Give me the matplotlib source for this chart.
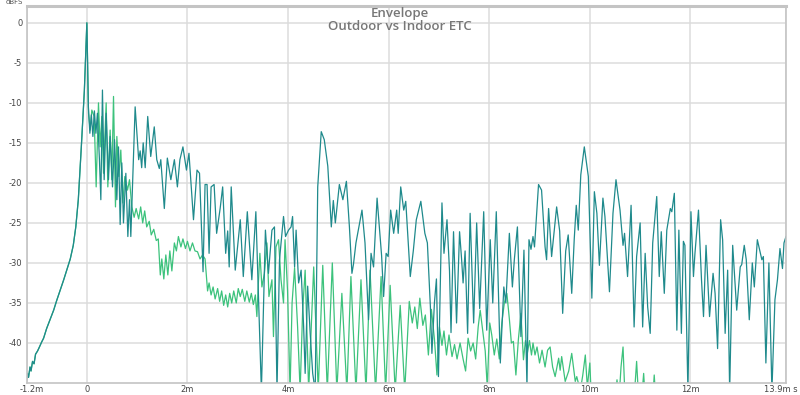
"""
Envelope (ETC) of an outdoor and an indoor measurement, REW style.
"""

import matplotlib
matplotlib.use('Agg')
import matplotlib.pyplot as plt
import matplotlib.transforms as mtransforms

# Data (time in ms, level in dBFS)
# ----------------------------------------------------------------------------

ramp_t = [-1.2, -1.18, -1.16, -1.13, -1.11, -1.08, -1.05, -1.02, -0.98, -0.95,
          -0.9, -0.86, -0.8, -0.74, -0.66, -0.6, -0.53, -0.46, -0.4, -0.33,
          -0.27, -0.22, -0.17, -0.11, -0.05, 0.0]
ramp_db = [-44.6, -43.8, -44.3, -43.0, -43.5, -42.3, -42.6, -41.4, -41.0, -40.6,
           -39.9, -39.4, -38.2, -37.2, -35.9, -34.7, -33.4, -32.1, -30.9, -29.5,
           -27.8, -25.5, -22.1, -15.5, -8.5, 0.0]

indoor_t = [
    0.03, 0.06, 0.09, 0.12, 0.15, 0.18, 0.21, 0.25, 0.278, 0.31,
    0.344, 0.384, 0.43, 0.463, 0.51, 0.55, 0.596, 0.629, 0.662, 0.695,
    0.728, 0.775, 0.815, 0.848, 0.874, 0.96, 1.03, 1.06, 1.09, 1.12,
    1.16, 1.21, 1.27, 1.34, 1.39, 1.44, 1.47, 1.54, 1.60, 1.67,
    1.74, 1.80, 1.85, 1.91, 1.98, 2.03, 2.12, 2.19, 2.24, 2.31,
    2.35, 2.39, 2.43, 2.47, 2.53, 2.58, 2.65, 2.70, 2.76, 2.80,
    2.83, 2.87, 2.95, 3.05, 3.11, 3.19, 3.28, 3.36, 3.47, 3.55,
    3.61, 3.68, 3.73, 3.78, 3.83, 3.91, 3.95, 4.01, 4.06, 4.09,
    4.13, 4.16, 4.21, 4.26, 4.31, 4.34, 4.39, 4.44, 4.49, 4.54,
    4.59, 4.66, 4.72, 4.79, 4.86, 4.90, 4.94, 5.02, 5.09, 5.16,
    5.22, 5.27, 5.30, 5.35, 5.47, 5.53, 5.60, 5.65, 5.70, 5.77,
    5.83, 5.86, 5.90, 5.95, 5.99, 6.04, 6.10, 6.16, 6.19, 6.24,
    6.30, 6.34, 6.43, 6.49, 6.55, 6.64, 6.72, 6.77, 6.83, 6.86,
    6.91, 6.95, 6.99, 7.06, 7.10, 7.16, 7.21, 7.24, 7.29, 7.35,
    7.41, 7.45, 7.48, 7.52, 7.57, 7.62, 7.69, 7.75, 7.81, 7.89,
    7.95, 8.02, 8.07, 8.14, 8.22, 8.29, 8.33, 8.40, 8.46, 8.50,
    8.56, 8.63, 8.69, 8.75, 8.79, 8.83, 8.87, 8.90, 8.98, 9.04,
    9.11, 9.14, 9.18, 9.24, 9.34, 9.40, 9.46, 9.52, 9.57, 9.64,
    9.69, 9.73, 9.77, 9.82, 9.89, 9.97, 10.04, 10.09, 10.14, 10.19,
    10.26, 10.30, 10.39, 10.46, 10.52, 10.60, 10.66, 10.69, 10.75, 10.82,
    10.88, 10.93, 11.00, 11.05, 11.10, 11.15, 11.20, 11.25, 11.33, 11.38,
    11.42, 11.48, 11.53, 11.60, 11.63, 11.68, 11.73, 11.77, 11.82, 11.86,
    11.89, 11.95, 12.01, 12.06, 12.09, 12.16, 12.22, 12.26, 12.31, 12.38,
    12.45, 12.49, 12.54, 12.60, 12.64, 12.69, 12.74, 12.78, 12.84, 12.92,
    12.99, 13.02, 13.07, 13.11, 13.17, 13.23, 13.27, 13.33, 13.42, 13.45,
    13.50, 13.56, 13.62, 13.68, 13.73, 13.78, 13.83, 13.86, 13.90]
indoor_db = [
    -10.5, -13.8, -11.5, -14.2, -11.0, -13.8, -11.3, -17.1, -22.1, -8.4,
    -19.6, -11.3, -19.6, -14.2, -20.5, -14.6, -22.1, -15.5, -25.2, -17.5,
    -25.0, -18.8, -26.7, -22.1, -26.7, -10.5, -17.1, -16.0, -18.1, -15.0,
    -18.1, -11.7, -16.7, -13.0, -17.1, -18.2, -17.1, -23.2, -16.9, -19.6,
    -17.1, -20.5, -17.1, -15.5, -18.4, -16.3, -24.6, -18.4, -18.8, -31.1,
    -20.2, -20.2, -28.8, -20.5, -20.2, -26.3, -23.2, -20.5, -28.8, -26.0,
    -30.5, -20.5, -30.9, -24.6, -31.7, -23.6, -32.1, -23.6, -46.0, -25.9,
    -31.3, -25.9, -25.5, -46.0, -29.6, -24.2, -26.7, -25.9, -25.5, -24.2,
    -30.5, -25.9, -32.5, -30.9, -38.0, -43.8, -32.9, -38.8, -43.8, -46.0,
    -20.5, -13.6, -14.6, -17.9, -25.5, -22.2, -25.0, -20.2, -22.1, -19.8,
    -25.5, -31.3, -30.2, -27.5, -23.4, -27.5, -37.1, -28.8, -30.5, -21.9,
    -26.6, -29.1, -34.2, -28.8, -29.2, -23.4, -26.3, -23.4, -26.3, -20.5,
    -23.4, -22.3, -31.7, -28.5, -24.6, -22.3, -26.3, -27.5, -35.5, -41.3,
    -35.0, -32.0, -44.2, -22.5, -28.8, -24.6, -31.0, -38.7, -26.1, -37.5,
    -26.1, -29.5, -32.5, -28.5, -38.8, -23.8, -37.5, -25.0, -35.7, -23.6,
    -38.4, -27.1, -35.0, -23.6, -42.5, -33.0, -35.0, -26.3, -33.0, -29.5,
    -25.5, -39.2, -28.4, -45.5, -27.1, -28.3, -26.7, -28.0, -20.2, -20.9,
    -28.0, -29.6, -23.2, -29.2, -23.0, -26.0, -36.3, -28.5, -26.5, -33.8,
    -27.0, -22.8, -25.9, -19.0, -15.5, -19.2, -34.4, -21.1, -23.8, -30.3,
    -21.9, -24.2, -33.6, -23.8, -19.6, -23.4, -27.8, -26.3, -31.7, -22.8,
    -38.0, -29.2, -25.0, -38.0, -28.8, -35.5, -38.8, -27.5, -21.7, -31.7,
    -26.1, -33.8, -25.9, -23.2, -23.6, -21.3, -38.4, -25.9, -38.8, -27.3,
    -27.8, -46.0, -23.6, -31.7, -28.8, -23.4, -32.1, -36.7, -27.8, -36.7,
    -31.3, -33.8, -40.7, -24.6, -27.1, -38.8, -30.9, -46.0, -27.8, -35.9,
    -30.5, -30.2, -27.8, -29.6, -37.1, -30.0, -33.0, -27.1, -29.6, -29.2,
    -42.5, -30.0, -46.0, -34.6, -32.1, -28.2, -30.7, -27.5, -26.7]

outdoor_t = [
    0.033, 0.066, 0.099, 0.145, 0.185, 0.231, 0.264, 0.298, 0.331, 0.384,
    0.417, 0.463, 0.496, 0.53, 0.569, 0.596, 0.636, 0.675, 0.715, 0.755,
    0.808, 0.848, 0.894, 0.94, 0.98, 1.03, 1.07, 1.11, 1.15, 1.19,
    1.24, 1.28, 1.33, 1.38, 1.42, 1.46, 1.49, 1.53, 1.57, 1.61,
    1.65, 1.69, 1.74, 1.78, 1.82, 1.87, 1.91, 1.96, 2.00, 2.05,
    2.10, 2.15, 2.20, 2.25, 2.30, 2.35, 2.40, 2.43, 2.47, 2.51,
    2.55, 2.60, 2.64, 2.68, 2.72, 2.76, 2.80, 2.84, 2.88, 2.92,
    2.97, 3.01, 3.05, 3.09, 3.14, 3.18, 3.23, 3.27, 3.31, 3.35,
    3.38, 3.41, 3.44, 3.48, 3.53, 3.58, 3.62, 3.68, 3.71, 3.76,
    3.81, 3.86, 3.91, 3.94, 3.99, 4.04, 4.08, 4.13, 4.19, 4.24,
    4.29, 4.34, 4.41, 4.51, 4.60, 4.69, 4.78, 4.88, 4.97, 5.07,
    5.17, 5.25, 5.35, 5.45, 5.55, 5.63, 5.74, 5.85, 5.94, 6.03,
    6.13, 6.23, 6.32, 6.41, 6.47, 6.52, 6.57, 6.62, 6.68, 6.73,
    6.79, 6.85, 6.91, 6.96, 7.01, 7.06, 7.10, 7.15, 7.20, 7.26,
    7.31, 7.36, 7.42, 7.48, 7.53, 7.58, 7.63, 7.68, 7.73, 7.78,
    7.82, 7.87, 7.92, 7.96, 8.01, 8.05, 8.10, 8.15, 8.20, 8.25,
    8.30, 8.35, 8.40, 8.44, 8.48, 8.53, 8.58, 8.63, 8.68, 8.72,
    8.76, 8.80, 8.84, 8.87, 8.91, 8.95, 9.00, 9.05, 9.11, 9.16,
    9.21, 9.26, 9.31, 9.38, 9.41, 9.44, 9.51, 9.58, 9.64, 9.71,
    9.74, 9.81, 9.86, 9.91, 9.95, 10.00, 10.03, 10.50, 10.54, 10.58,
    10.62, 10.66, 10.70, 10.88, 10.93, 10.97, 11.03, 11.07, 11.10, 11.25,
    11.28, 11.31, 11.40]
outdoor_db = [
    -11.3, -13.4, -10.9, -11.7, -20.5, -10.0, -15.5, -11.7, -18.8, -10.0,
    -20.5, -13.4, -19.6, -9.2, -23.0, -14.2, -19.2, -15.9, -22.5, -19.2,
    -20.9, -19.6, -23.0, -24.3, -23.2, -24.5, -23.0, -25.0, -23.5, -25.5,
    -24.8, -26.5, -25.8, -27.2, -27.0, -31.5, -29.5, -32.0, -29.0, -31.5,
    -28.5, -31.0, -27.5, -28.5, -26.7, -28.0, -27.0, -28.2, -27.3, -28.5,
    -27.5, -28.5, -28.6, -29.5, -29.0, -29.5, -33.5, -32.5, -34.0, -33.0,
    -34.5, -33.2, -34.8, -33.5, -35.3, -34.0, -35.5, -33.8, -35.0, -33.5,
    -35.0, -33.2, -34.2, -33.3, -34.8, -33.5, -34.9, -33.8, -35.2, -34.0,
    -36.7, -32.5, -28.8, -33.0, -31.3, -27.5, -34.2, -32.1, -39.2, -28.0,
    -27.1, -32.1, -35.0, -27.1, -33.5, -46.0, -35.0, -30.6, -38.0, -46.0,
    -36.0, -30.9, -46.0, -30.5, -46.0, -30.3, -46.0, -30.0, -46.0, -33.8,
    -46.0, -31.7, -46.0, -32.1, -46.0, -30.9, -46.0, -31.7, -46.0, -32.8,
    -46.0, -35.3, -46.0, -34.8, -37.5, -35.5, -38.2, -34.4, -37.8, -36.5,
    -41.5, -35.8, -39.5, -44.0, -38.0, -40.3, -38.5, -41.5, -39.0, -41.7,
    -40.2, -42.0, -40.0, -42.0, -43.5, -39.4, -41.0, -40.0, -42.0, -38.0,
    -35.9, -38.5, -41.0, -45.5, -37.5, -39.0, -41.5, -39.5, -42.0, -37.5,
    -35.0, -33.8, -37.0, -40.0, -39.8, -44.0, -39.5, -36.3, -42.1, -39.7,
    -41.2, -39.7, -41.5, -40.0, -41.5, -40.5, -42.5, -40.9, -43.0, -40.9,
    -40.5, -43.0, -44.2, -41.9, -43.4, -41.7, -44.8, -43.5, -41.3, -44.8,
    -44.2, -46.0, -44.0, -41.5, -45.5, -42.5, -47.0, -47.0, -44.6, -47.0,
    -43.0, -40.5, -47.0, -47.0, -42.3, -47.0, -47.0, -43.8, -47.0, -47.0,
    -44.0, -47.0, -50.0]

xticks = [-1.2, 0, 2, 4, 6, 8, 10, 12, 13.9]
xtick_labels = ['-1.2m', '0', '2m', '4m', '6m', '8m', '10m', '12m', '13.9m s']
yticks = [0, -5, -10, -15, -20, -25, -30, -35, -40]

# Plot
# ----------------------------------------------------------------------------

fig = plt.figure(figsize=(8, 3.95), dpi=100)
ax = fig.add_axes([26.5 / 800, 12 / 395, 759.5 / 800, 377 / 395])

ax.plot(ramp_t + outdoor_t, ramp_db + outdoor_db, color='#3cc27c', lw=0.9)
ax.plot(ramp_t + indoor_t, ramp_db + indoor_db, color='#1f8a8c', lw=0.9)

ax.set_xlim(-1.2, 13.9)
ax.set_ylim(-45, 2.1)
ax.set_xticks(xticks, xtick_labels)
ax.set_yticks(yticks, [str(v) for v in yticks])
ax.tick_params(length=0, labelsize=6, labelcolor='#444444')
ax.tick_params(axis='x', pad=1.5)
ax.tick_params(axis='y', pad=3)
ax.grid(True, color='#dcdcdc', lw=1.1)
ax.set_axisbelow(True)

for side in ['left', 'right', 'bottom']:
    ax.spines[side].set_color('#c4c4c4')
    ax.spines[side].set_linewidth(1.2)
ax.spines['top'].set_color('#c4c4c4')
ax.spines['top'].set_linewidth(2.2)

# keep the end labels of the time axis inside the figure, like the original
labels = ax.get_xticklabels()
labels[0].set_transform(labels[0].get_transform() +
                        mtransforms.ScaledTranslation(5 / 100, 0, fig.dpi_scale_trans))
labels[-1].set_horizontalalignment('right')
labels[-1].set_transform(labels[-1].get_transform() +
                         mtransforms.ScaledTranslation(12 / 100, 0, fig.dpi_scale_trans))

title_font = dict(family=['Open Sans', 'DejaVu Sans'], fontweight=600,
                  color='#777777', fontsize=9.5, ha='center', va='center')
fig.text(0.5, 1 - 13 / 395, 'Envelope', **title_font)
fig.text(0.5, 1 - 26.5 / 395, 'Outdoor vs Indoor ETC', **title_font)
fig.text(14 / 800, 1 - 2 / 395, 'dBFS', ha='center', va='center',
         color='#555555', fontsize=5)

fig.savefig('out.png', dpi=100)
